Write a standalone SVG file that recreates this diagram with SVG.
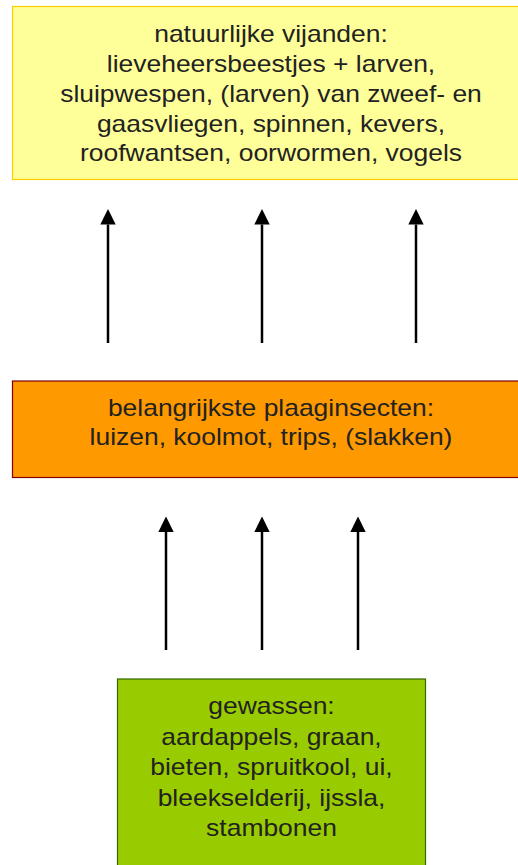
<svg xmlns="http://www.w3.org/2000/svg" width="518" height="865" viewBox="0 0 518 865">
  <style>
    .t { font-family: "Liberation Sans", Arial, sans-serif; font-size: 23px; fill: #222222; text-anchor: middle; }
    .arrow { stroke: #000000; stroke-width: 2.5; fill: none; marker-end: url(#head); }
  </style>
  <defs>
    <marker id="head" markerUnits="userSpaceOnUse" markerWidth="16" markerHeight="16" viewBox="0 0 16 16" refX="0" refY="8" orient="auto">
      <path d="M0,0.3 L15.5,8 L0,15.7 z" fill="#000000"/>
    </marker>
  </defs>
  <rect width="518" height="865" fill="#ffffff"/>

  <g id="vijanden">
    <rect x="12.5" y="6.5" width="520" height="173" fill="#FFFF99" stroke="#FFCC00" stroke-width="1.2"/>
    <g transform="translate(271,0) scale(1.15,1)">
      <text class="t" x="0" y="41.7">natuurlijke vijanden:</text>
      <text class="t" x="0" y="71.7">lieveheersbeestjes + larven,</text>
      <text class="t" x="0" y="101.7">sluipwespen, (larven) van zweef- en</text>
      <text class="t" x="0" y="131.7">gaasvliegen, spinnen, kevers,</text>
      <text class="t" x="0" y="161.5">roofwantsen, oorwormen, vogels</text>
    </g>
  </g>

  <g id="plaaginsecten">
    <rect x="12.5" y="381" width="520" height="96.5" fill="#FF9900" stroke="#800000" stroke-width="1.2"/>
    <g transform="translate(271,0) scale(1.15,1)">
      <text class="t" x="0" y="416">belangrijkste plaaginsecten:</text>
      <text class="t" x="0" y="445.5">luizen, koolmot, trips, (slakken)</text>
    </g>
  </g>

  <g id="gewassen">
    <rect x="117.5" y="679" width="308" height="200" fill="#99CC00" stroke="#336600" stroke-width="1.2"/>
    <g transform="translate(271.5,0) scale(1.15,1)">
      <text class="t" x="0" y="714.5">gewassen:</text>
      <text class="t" x="0" y="745">aardappels, graan,</text>
      <text class="t" x="0" y="775.5">bieten, spruitkool, ui,</text>
      <text class="t" x="0" y="806">bleekselderij, ijssla,</text>
      <text class="t" x="0" y="836">stambonen</text>
    </g>
  </g>

  <g id="connectors">
    <line class="arrow" x1="108" y1="343" x2="108" y2="224.5"/>
    <line class="arrow" x1="262" y1="343" x2="262" y2="224.5"/>
    <line class="arrow" x1="416" y1="343" x2="416" y2="224.5"/>
    <line class="arrow" x1="166" y1="650" x2="166" y2="532"/>
    <line class="arrow" x1="262" y1="650" x2="262" y2="532"/>
    <line class="arrow" x1="358" y1="650" x2="358" y2="532"/>
  </g>
</svg>
